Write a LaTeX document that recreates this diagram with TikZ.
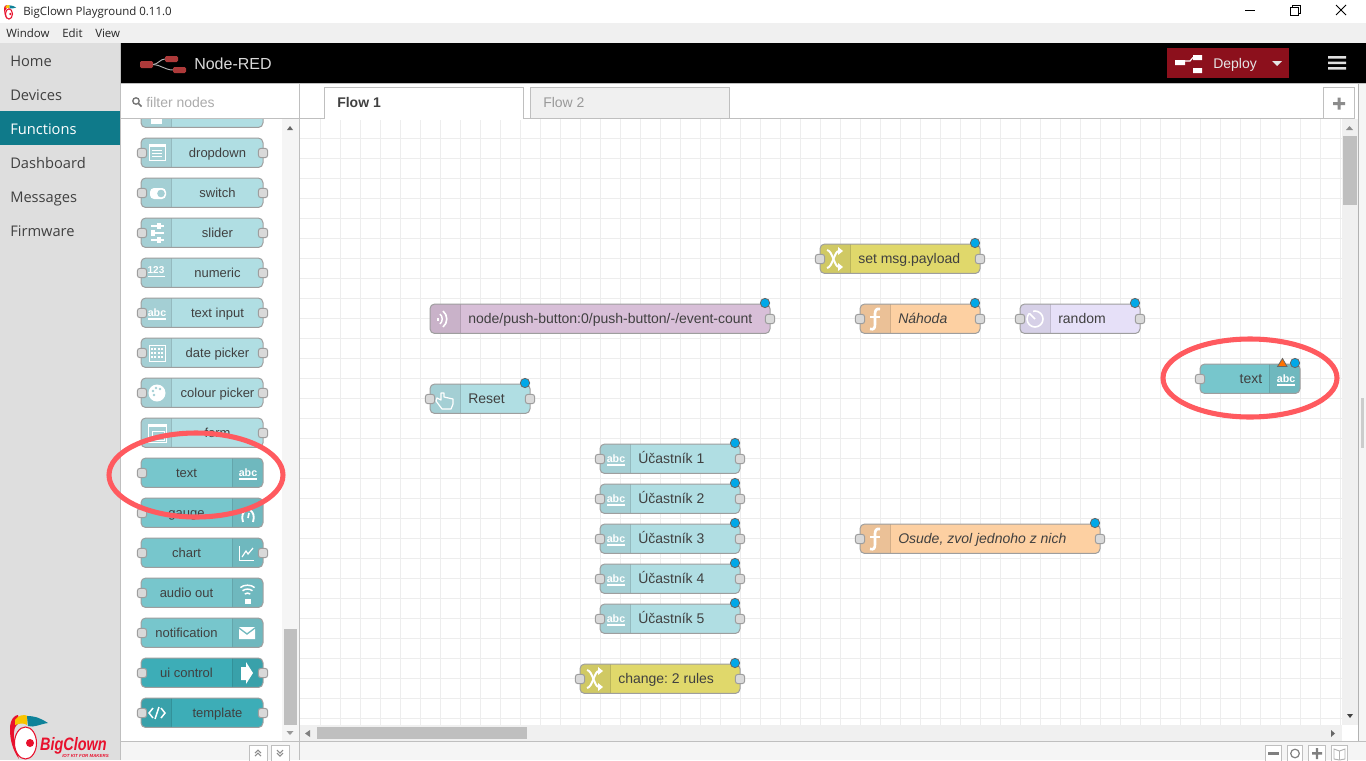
\documentclass[tikz,border=0pt]{standalone}
\usepackage{fontspec}
\setmainfont{Liberation Sans}
\newfontfamily\uifont{Open Sans}
\frenchspacing
\definecolor{pal}{HTML}{B0DEE3}\definecolor{pald}{HTML}{A4CFD4}
\definecolor{dboard}{HTML}{77C6CC}\definecolor{dboardd}{HTML}{6FB8BE}
\definecolor{ctl}{HTML}{3DADB7}\definecolor{ctld}{HTML}{39A1AA}
\definecolor{yel}{HTML}{E0D86B}\definecolor{yeld}{HTML}{D0C964}
\definecolor{ora}{HTML}{FDD0A2}\definecolor{orad}{HTML}{EBC197}
\definecolor{lil}{HTML}{E6E0F8}\definecolor{lild}{HTML}{D6D0E7}
\definecolor{mag}{HTML}{D8BFD8}\definecolor{magd}{HTML}{C9B2C9}
\definecolor{ringred}{HTML}{FF5A5F}
\definecolor{clown}{HTML}{E8112D}
\definecolor{funcbar}{HTML}{0F7A8A}
\definecolor{nrred}{HTML}{AD3A3A}
\definecolor{deployred}{HTML}{8C101C}
\definecolor{clownteal}{HTML}{0E8299}
\definecolor{dotblue}{HTML}{00A8E8}
\definecolor{clownyellow}{HTML}{F9C400}
\tikzset{
  x=.75pt,y=-.75pt,
  nodeborder/.style={draw=black!38,line width=.75pt},
  port/.style={draw=black!38,fill=black!15,line width=.75pt,rounded corners=2pt,minimum width=7pt,minimum height=7pt,inner sep=0pt},
  dotb/.style={draw=black!60,fill=dotblue,line width=.6pt,circle,minimum size=7pt,inner sep=0pt},
  lab/.style={anchor=base west,inner sep=0pt,text=black!75,font=\fontsize{10.5pt}{12pt}\selectfont},
  plab/.style={anchor=base,inner sep=0pt,text=black!75,font=\fontsize{9.75pt}{12pt}\selectfont},
  menu/.style={anchor=base west,inner sep=0pt,text=black!75,font=\uifont\fontsize{11pt}{12pt}\selectfont},
  bar/.style={anchor=base west,inner sep=0pt,text=black!85,font=\uifont\fontsize{8.6pt}{10pt}\selectfont},
  tbtn/.style={draw=black!25,fill=white,line width=.75pt},
  grid line/.style={draw=black!7,line width=.75pt},
}
\def\pinoff{0}
% #1 name #2 x1 #3 x2 #4 ytop #5 colour #6 icon side L/R #7 ports L/R/B
\newcommand{\bodybox}[7]{%
  \begin{scope}
    \clip[rounded corners=3.5pt] (#2,#4) rectangle (#3,#4+29.5);
    \fill[#5] (#2,#4) rectangle (#3,#4+29.5);
    \if#6L\fill[#5d] (#2,#4) rectangle (#2+30,#4+29.5);
      \draw[#5d!90!black,line width=.6pt] (#2+30.5,#4) -- (#2+30.5,#4+29.5);
    \else\fill[#5d] (#3-30,#4) rectangle (#3,#4+29.5);
      \draw[#5d!90!black,line width=.6pt] (#3-30.5,#4) -- (#3-30.5,#4+29.5);\fi
  \end{scope}
  \node[nodeborder,rounded corners=3.5pt,inner sep=0pt,minimum width={(#3-#2)*.75pt},minimum height=22.1pt] (#1) at ({(#2+#3)/2},#4+14.75) {};
  \if#7L\node[port] (#1-in) at (#2+\pinoff,#4+15) {};\fi
  \if#7R\node[port] (#1-out) at (#3,#4+15) {};\fi
  \if#7B\node[port] (#1-in) at (#2+\pinoff,#4+15) {};\node[port] (#1-out) at (#3,#4+15) {};\fi
}
\newcommand{\flownode}[9]{%
  \bodybox{#1}{#2}{#3}{#4}{#5}{#6}{#7}%
  \node[lab,font=\fontsize{10.5pt}{12pt}\selectfont#9] (#1-text) at (#2+38,#4+19) {#8};
  \node[dotb] (#1-dot) at (#3-5,#4-1) {};
}
\newcommand{\palnode}[6]{%
  \bodybox{#1}{141}{263}{#2}{#3}{#4}{#5}%
  \if#4L\node[plab] (#1-text) at (217.5,#2+19) {#6};\else\node[plab] (#1-text) at (186.5,#2+19) {#6};\fi
}
\newcommand{\icAbc}[2]{\node[inner sep=0pt,anchor=base,text=white,font=\bfseries\fontsize{8pt}{8pt}\selectfont] at (#1,#2+4) {abc};\fill[white] (#1-9,#2+6) rectangle (#1+9,#2+7.6);}
\newcommand{\icShuffle}[2]{\begin{scope}[shift={(#1,#2)}]
  \draw[white,line width=1.5pt] (-8,-9) .. controls (-2,-8) and (-1,8) .. (4,8);
  \draw[white,line width=1.5pt] (-8,9) .. controls (-2,8) and (-1,-8) .. (4,-8);
  \fill[white] (3,-12) -- (8,-8) -- (3,-4) -- cycle;\fill[white] (3,4) -- (8,8) -- (3,12) -- cycle;
\end{scope}}
\newcommand{\icFunc}[2]{\begin{scope}[shift={(#1,#2)}]
  \draw[white,line width=2pt] (5,-10) .. controls (1,-11) and (0,-8) .. (0,-5) -- (0,5) .. controls (0,9) and (-1,11) .. (-5,10);
  \draw[white,line width=1.5pt] (-5,-2) -- (5,-2);
\end{scope}}
\newcommand{\icList}[2]{\begin{scope}[shift={(#1,#2)}]
  \draw[white,line width=.6pt] (-8,-8) rectangle (8,8);\fill[white] (-8,-8) rectangle (8,-5.5);
  \foreach \yy in {-2,1,4}{\draw[white,line width=.6pt] (-5,\yy) -- (5,\yy);}
\end{scope}}
\newcommand{\clownlogo}{%
  \fill[clown] (0,14) .. controls (0,4) and (5,0) .. (8,0) -- (10,8) .. controls (3,10) and (3,20) .. (5,30) -- (9,44) .. controls (2,34) and (0,24) .. (0,14) -- cycle;
  \fill[clownyellow] (5,5) .. controls (8,0) and (14,-1) .. (18,1) -- (17,10) .. controls (14,8) and (10,8) .. (5,10) -- cycle;
  \fill[clownteal] (17,1) .. controls (26,1) and (32,4) .. (38,8) .. controls (30,9) and (24,13) .. (18,11) -- cycle;
  \fill[white] (15.5,28) ellipse[x radius=11,y radius=16];
  \draw[clown,line width=.8pt] (15.5,28) ellipse[x radius=11,y radius=16];
  \fill[clown] (20,28) circle[radius=4];
}
\begin{document}
\begin{tikzpicture}
\useasboundingbox (0,0) rectangle (1366,760);
% window chrome
\fill[white] (0,0) rectangle (1366,23);
\fill[black!6] (0,23) rectangle (1366,43);
\fill[black!13] (0,43) rectangle (120,760);
\fill[black] (120,43) rectangle (1366,83);
\fill[white] (121,83) rectangle (1366,741);
\fill[black!4] (121,741) rectangle (1366,760);
\fill[black!4] (1359,84) rectangle (1366,741);
% grid
\begin{scope}
\clip (300,119) rectangle (1342,725);
\foreach \gx in {320,340,...,1340}{\draw[grid line] (\gx,119) -- (\gx,725);}
\foreach \gy in {138,158,...,718}{\draw[grid line] (300,\gy) -- (1342,\gy);}
\end{scope}
% borders
\draw[black!25,line width=.75pt] (120.5,43) -- (120.5,760);
\draw[black!25,line width=.75pt] (299.5,83) -- (299.5,760);
\draw[black!25,line width=.75pt] (121,118.5) -- (300,118.5);
\draw[black!25,line width=.75pt] (121,741.5) -- (1366,741.5);
\draw[black!25,line width=.75pt] (300,118.5) -- (1342,118.5);
\draw[black!30,line width=.75pt] (1358.5,83) -- (1358.5,741);
\draw[black!25,line width=.75pt] (120,83.5) -- (1366,83.5);
% title & menu
\node[bar] (title) at (23,16) {BigClown Playground 0.11.0};
\node[bar] (mwindow) at (6,37) {Window};
\node[bar] (medit) at (62,37) {Edit};
\node[bar] (mview) at (95,37) {View};
% window controls
\draw[black,line width=.75pt] (1245,10.5) -- (1255,10.5);
\draw[black,line width=.75pt] (1290.5,7.5) rectangle (1298.5,15.5);
\draw[black,line width=.75pt] (1292.5,7) -- (1292.5,5.5) -- (1300.5,5.5) -- (1300.5,13.5) -- (1299,13.5);
\draw[black,line width=.75pt] (1336,5) -- (1346,15) (1336,15) -- (1346,5);
% sidebar
\fill[funcbar] (0,111) rectangle (120,145);
\node[menu] (mhome) at (10,66) {Home};
\node[menu] (mdevices) at (10,100) {Devices};
\node[menu,text=white,font=\uifont\fontsize{11pt}{12pt}\selectfont] (mfunc) at (10,134) {Functions};
\node[menu] (mdash) at (10,168) {Dashboard};
\node[menu] (mmsg) at (10,202) {Messages};
\node[menu] (mfirm) at (10,236) {Firmware};
% header
\fill[nrred,rounded corners=1pt] (140,61) rectangle (153,68);
\fill[nrred,rounded corners=1pt] (165,56) rectangle (178,62);
\fill[nrred,rounded corners=1pt] (173,67) rectangle (186,73);
\draw[black!30,line width=.7pt] (153,64.5) .. controls (158,64.5) and (160,59) .. (165,59);
\draw[black!30,line width=.7pt] (153,64.5) .. controls (160,64.5) and (165,70) .. (173,70);
\node[lab,text=black!15,font=\fontsize{12pt}{14pt}\selectfont] (brand) at (194,69) {Node-RED};
\fill[deployred] (1167,48) rectangle (1289,78);
\fill[white] (1175,60) rectangle (1185,65) (1193,55) rectangle (1202,60) (1193,68) rectangle (1202,73);
\draw[white,line width=.9pt] (1185,61) -- (1190,61) -- (1193,57.5);
\node[lab,text=black!10] (deploy) at (1213,68) {Deploy};
\fill[black!10] (1272,61) -- (1282,61) -- (1277,66) -- cycle;
\fill[black!12] (1328,56) rectangle (1346,58.5) (1328,61.5) rectangle (1346,64) (1328,67) rectangle (1346,69.5);
% tabs
\draw[black!25,fill=white,line width=.75pt] (324.5,118.5) -- (324.5,87.5) -- (523.5,87.5) -- (523.5,118.5);
\fill[white] (325,117) rectangle (523,120);
\node[lab,font=\bfseries\fontsize{10.5pt}{12pt}\selectfont] (tab1) at (337,107) {Flow 1};
\draw[black!25,fill=black!6,line width=.75pt] (530.5,118) -- (530.5,87.5) -- (729.5,87.5) -- (729.5,118);
\node[lab,text=black!40,font=\fontsize{10.5pt}{12pt}\selectfont] (tab2) at (543,107) {Flow 2};
\draw[tbtn] (1323.5,87.5) rectangle (1354.5,118.5);
\fill[black!45] (1333,102) rectangle (1345,105) (1337.5,97.5) rectangle (1340.5,109.5);
% filter
\draw[black!55,line width=1pt] (136,101) circle[radius=3.2];
\draw[black!55,line width=1.2pt] (138.5,103.5) -- (141.5,106.5);
\node[lab,text=black!33] (filter) at (146,107) {filter nodes};
% palette
\fill[black!4] (282,119) rectangle (299,741);
\fill[black!25] (284,629) rectangle (297,725);
\fill[black!60] (287,130) -- (293,130) -- (290,126) -- cycle;
\fill[black!40] (286.5,731) -- (293.5,731) -- (290,735) -- cycle;
\def\pinoff{1}
\begin{scope}
\clip (121,119) rectangle (282,741);
\bodybox{ptop}{141}{263}{98}{pal}{L}{N}
\fill[white] (151,119) rectangle (162,124);
\palnode{pdrop}{138}{pal}{L}{B}{dropdown}\icList{157}{152.5}
\palnode{pswitch}{178}{pal}{L}{B}{switch}
\fill[white,rounded corners=3pt] (150,188) rectangle (166,199);\fill[pald] (161,193.5) circle[radius=3.8];
\palnode{pslider}{218}{pal}{L}{B}{slider}
\foreach \yy/\xx in {226/159,233/153,240/159}{\draw[white,line width=1.2pt] (151,\yy) -- (164,\yy);\fill[white] (\xx-2,\yy-3) rectangle (\xx+2,\yy+3);}
\palnode{pnum}{258}{pal}{L}{B}{numeric}
\node[inner sep=0pt,text=white,font=\bfseries\fontsize{7.5pt}{8pt}\selectfont] at (156,270) {123};\fill[white] (148,276) rectangle (165,277.3);
\palnode{ptext}{298}{pal}{L}{B}{text input}\icAbc{157}{312}
\palnode{pdate}{338}{pal}{L}{B}{date picker}
\draw[white,line width=.7pt] (149,345) rectangle (165,361);\foreach \yy in {349,353,357}{\draw[white,line width=1.5pt,dash pattern=on 1.5pt off 1pt] (151,\yy) -- (163,\yy);}
\palnode{pcolour}{378}{pal}{L}{B}{colour picker}
\fill[white] (157,393) circle[radius=8.5];\foreach \dx/\dy in {-4/-2,-1/-5,3/-4,-3/2}{\fill[pald] (157+\dx,393+\dy) circle[radius=1.3];}
\palnode{pform}{418}{pal}{L}{R}{form}
\draw[white,line width=.7pt] (148,424) rectangle (166,442);\draw[white,line width=.7pt] (152,431) rectangle (164,440);\fill[white] (148,424) rectangle (166,427);
\palnode{ptextw}{458}{dboard}{R}{L}{text}\icAbc{248}{472}
\palnode{pgauge}{498}{dboard}{R}{L}{gauge}
\draw[white,line width=1.4pt] (243,522) .. controls (241,516) and (243,512) .. (246,510);\draw[white,line width=1.4pt] (253,522) .. controls (255,516) and (253,512) .. (250,510);\draw[white,line width=1.2pt] (248,518) -- (249,513);
\palnode{pchart}{538}{dboard}{R}{B}{chart}
\draw[white,line width=.7pt] (239,546) -- (239,560) -- (254,560);\draw[white,line width=.9pt] (242,557) -- (246,551) -- (248,554) -- (253,548);
\palnode{paudio}{578}{dboard}{R}{L}{audio out}
\fill[white] (244.5,599) rectangle (250.5,604);
\foreach \rr in {5,9,13}{\draw[white,line width=1.1pt] (247.5-\rr*.55,598-\rr*.8) .. controls (247.5-\rr*.3,598-\rr*1.05) and (247.5+\rr*.3,598-\rr*1.05) .. (247.5+\rr*.55,598-\rr*.8);}
\palnode{pnotif}{618}{dboard}{R}{L}{notification}
\fill[white] (239,627) -- (255,627) -- (247,633) -- cycle;\fill[white] (239,629) -- (247,635) -- (255,629) -- (255,639) -- (239,639) -- cycle;
\palnode{pui}{658}{ctl}{R}{B}{ui control}
\fill[white] (241,667) -- (246,667) -- (246,662) -- (253,673) -- (246,684) -- (246,680) -- (241,680) -- cycle;
\palnode{ptemplate}{698}{ctl}{L}{B}{template}
\draw[white,line width=1.1pt] (153,708) -- (149,713) -- (153,718) (161,708) -- (165,713) -- (161,718) (159,707) -- (155,719);
\end{scope}
\def\pinoff{0}
% palette footer buttons
\draw[tbtn] (249.5,745.5) rectangle (267.5,763);\draw[tbtn] (271.5,745.5) rectangle (289.5,763);
\draw[black!45,line width=.8pt] (255,753) -- (258,750) -- (261,753) (255,756) -- (258,753) -- (261,756);
\draw[black!45,line width=.8pt] (277,750) -- (280,753) -- (283,750) (277,753) -- (280,756) -- (283,753);
% scrollbars workspace
\fill[black!6] (1342,119) rectangle (1358,725);
\fill[black!6] (300,725) rectangle (1342,741);
\fill[black!25] (1343,136) rectangle (1357,205);
\fill[black!25] (317,727) rectangle (527,739);
\fill[black!45] (1346,130) -- (1353,130) -- (1349.5,126) -- cycle;
\fill[black!75] (1347,714) -- (1353,714) -- (1350,718) -- cycle;
\fill[black!50] (310,730) -- (310,737) -- (305,733.5) -- cycle;
\fill[black!60] (1331,730) -- (1331,737) -- (1335,733.5) -- cycle;
\fill[black!20] (1361,398) rectangle (1364,448);
% workspace footer
\draw[tbtn] (1265.5,745.5) rectangle (1281.5,763);\fill[black!50] (1268,752) rectangle (1279,754.5);
\draw[tbtn] (1287.5,745.5) rectangle (1302.5,763);\draw[black!50,line width=.9pt] (1295,753.5) circle[radius=4.3];
\draw[tbtn] (1308.5,745.5) rectangle (1325.5,763);\fill[black!50] (1312,752) rectangle (1322,754.5) (1315.8,748) rectangle (1318.2,759);
\draw[tbtn] (1331.5,745.5) rectangle (1347.5,763);\draw[black!30,line width=.7pt] (1334,749) -- (1339.5,751) -- (1345,749) -- (1345,759) -- (1339.5,760) -- (1334,759) -- cycle (1339.5,751) -- (1339.5,760);
% flow
\flownode{fset}{820}{980}{244}{yel}{L}{B}{set msg.payload}{}\icShuffle{835}{259}
\flownode{fnah}{860}{980}{304}{ora}{L}{B}{Náhoda}{\itshape}\icFunc{875}{319}
\flownode{frand}{1020}{1140}{304}{lil}{L}{B}{random}{}
\draw[white,line width=1.2pt] (1035,319) circle[radius=8];\draw[white,line width=1.2pt] (1035,319) -- (1030,314);\fill[lild] (1027,309) rectangle (1033,313);
\flownode{fmqtt}{430}{770}{304}{mag}{L}{R}{node/push-button:0/push-button/-/event-count}{}
\draw[white,line width=1.2pt] (443,311) .. controls (448,315) and (448,323) .. (443,327);\draw[white,line width=1.1pt] (440,314) .. controls (443,317) and (443,321) .. (440,324);\fill[white] (437,317.5) rectangle (438.5,320.5);
\flownode{freset}{430}{530}{384}{pal}{L}{B}{Reset}{}
\draw[white,line width=.9pt,line join=round] (441,393) -- (441,400) -- (437,398) -- (436,401) -- (442,409) -- (451,409) -- (453,404) -- (453,399) -- (444,397) -- (444,393) -- cycle;
\flownode{fu1}{600}{740}{444}{pal}{L}{B}{Účastník 1}{}\icAbc{616}{458}
\flownode{fu2}{600}{740}{484}{pal}{L}{B}{Účastník 2}{}\icAbc{616}{498}
\flownode{fu3}{600}{740}{524}{pal}{L}{B}{Účastník 3}{}\icAbc{616}{538}
\flownode{fu4}{600}{740}{564}{pal}{L}{B}{Účastník 4}{}\icAbc{616}{578}
\flownode{fu5}{600}{740}{604}{pal}{L}{B}{Účastník 5}{}\icAbc{616}{618}
\flownode{fchange}{580}{740}{664}{yel}{L}{B}{change: 2 rules}{}\icShuffle{595}{679}
\flownode{fosude}{860}{1100}{524}{ora}{L}{B}{Osude, zvol jednoho z nich}{\itshape}\icFunc{875}{539}
\bodybox{ftext}{1200}{1300}{364}{dboard}{R}{L}
\node[lab,anchor=base east] (ftext-text) at (1262.5,383) {text};
\icAbc{1286}{378}
\node[dotb] (ftext-dot) at (1295,363) {};
\draw[black!60,fill=orange!90!red,line width=.6pt] (1277.5,366.5) -- (1282.5,358.5) -- (1287,366.5) -- cycle;
% red rings
\draw[ringred,line width=3.8pt] (196,475) ellipse[x radius=87,y radius=42];
\draw[ringred,line width=3.8pt] (1250,378) ellipse[x radius=87,y radius=39];
% logo
\begin{scope}[shift={(10,715)}]\clownlogo\end{scope}
\begin{scope}[shift={(4,5)},scale=.32]\clownlogo\end{scope}
\node[anchor=base west,inner sep=0pt,text=clown,transform shape,xscale=.8,font=\bfseries\itshape\fontsize{13.5pt}{14pt}\selectfont] (logotext) at (40,750) {BigClown};
\node[anchor=base west,inner sep=0pt,text=clown,font=\bfseries\itshape\fontsize{3.3pt}{4pt}\selectfont] (logosub) at (62,757) {IOT KIT FOR MAKERS};
\end{tikzpicture}
\end{document}
